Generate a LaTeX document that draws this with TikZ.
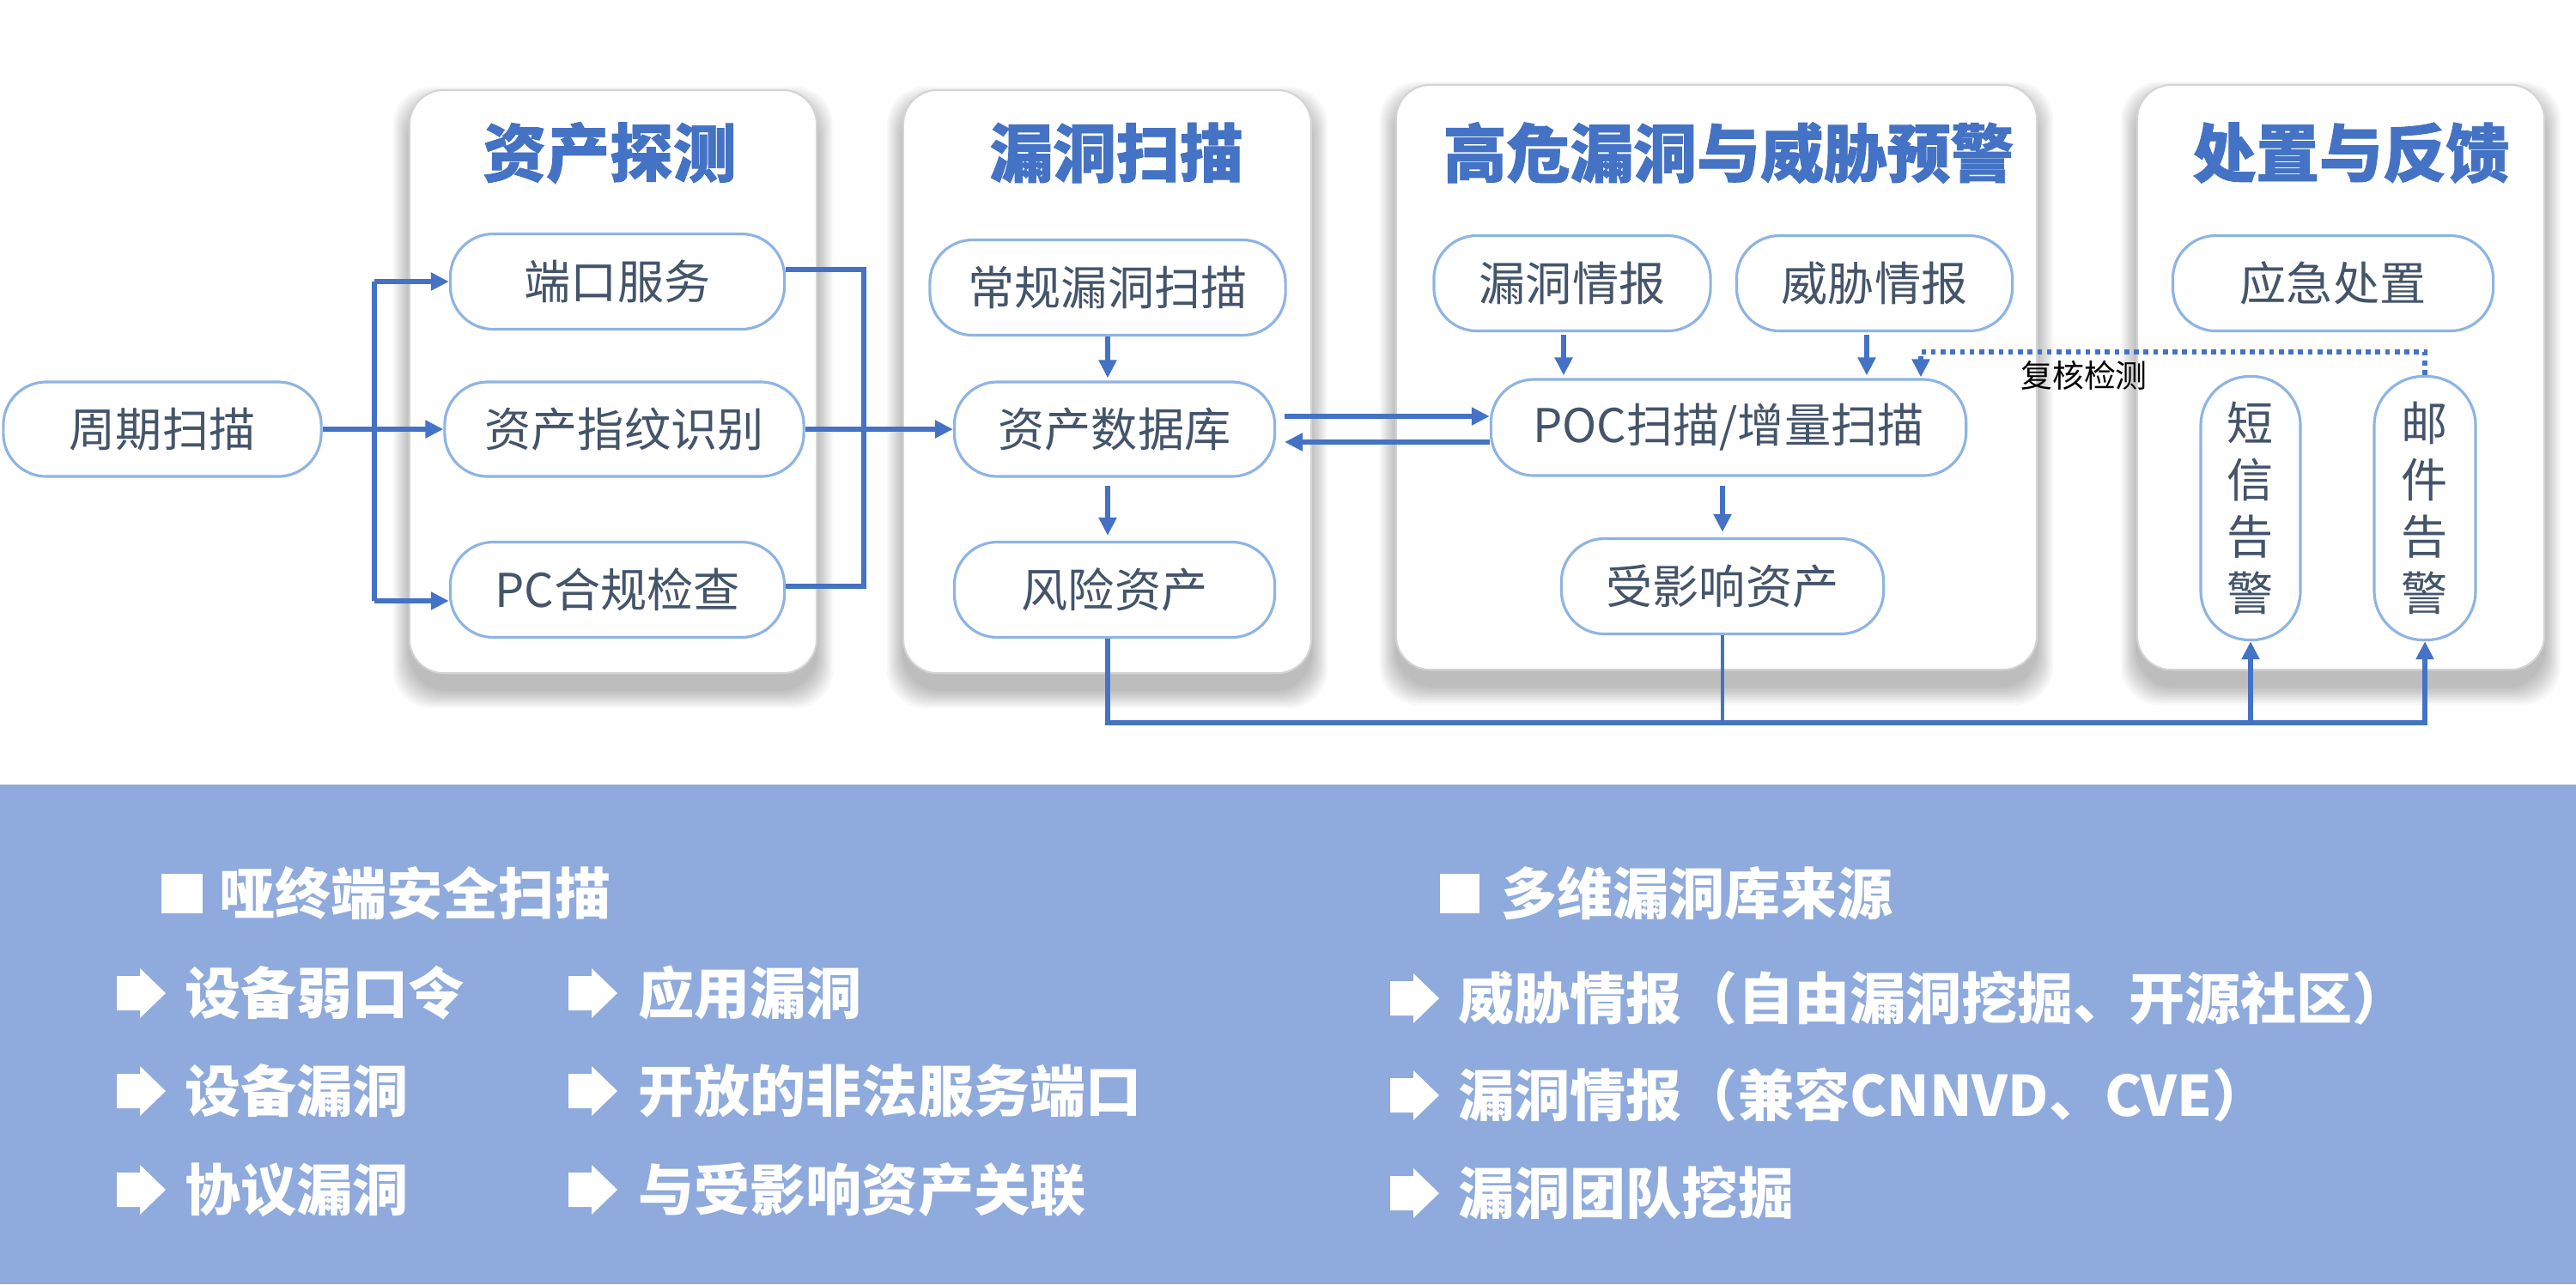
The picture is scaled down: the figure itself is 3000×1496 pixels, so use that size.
\documentclass[tikz,border=0pt]{standalone}
\usepackage{fontspec}
\setmainfont{Noto Sans CJK SC}
\newfontfamily\titlefont{Noto Sans CJK SC}[BoldFeatures={FakeBold=1.2}]
\usetikzlibrary{arrows.meta}
\definecolor{mainblue}{HTML}{4472C4}
\definecolor{nodeedge}{HTML}{8EB4E3}
\definecolor{nodetext}{HTML}{44546A}
\definecolor{bandblue}{HTML}{8FAADC}
\definecolor{paneledge}{HTML}{D4D4D4}
\pgfdeclarelayer{bgl}
\pgfdeclarelayer{shadowlayer}
\pgfsetlayers{bgl,shadowlayer,main}
\begin{document}
\begin{tikzpicture}[x=0.01cm,y=-0.01cm,
  box/.style={draw=nodeedge, line width=0.9pt, fill=white, rounded corners=0.5cm, inner sep=0pt, text=nodetext, font=\fontsize{15.4pt}{18.8pt}\selectfont},
  vbox/.style={box, rounded corners=0.57cm, align=center},
  panel/.style={draw=paneledge, line width=0.6pt, fill=white, rounded corners=0.4cm, inner sep=0pt},
  ptitle/.style={text=mainblue, font=\fontsize{21pt}{24pt}\titlefont\bfseries, inner sep=0pt},
  ln/.style={draw=mainblue, line width=1.7pt},
  arr/.style={ln, -{Triangle[length=0.21cm,width=0.2cm]}},
  dotarr/.style={draw=mainblue, line width=1.6pt, dash pattern=on 1.6pt off 1.6pt, -{Triangle[length=0.21cm,width=0.2cm]}},
  bandtxt/.style={anchor=west, inner sep=0pt, text=white, font=\fontsize{18.5pt}{22pt}\selectfont\bfseries},
  barrow/.pic={\fill[white] (0,-20) -- (27,-20) -- (27,-29) -- (57,0) -- (27,29) -- (27,20) -- (0,20) -- cycle;}
]
\useasboundingbox (0,0) rectangle (3000,1496);
\begin{pgfonlayer}{bgl}
\fill[white] (0,0) rectangle (3000,914);
\fill[bandblue] (0,914) rectangle (3000,1496);
\end{pgfonlayer}

% panels
\node[panel, minimum width=4.74cm, minimum height=6.79cm] (P1) at (714,444.5) {};
\node[panel, minimum width=4.75cm, minimum height=6.79cm] (P2) at (1289.5,444.5) {};
\node[panel, minimum width=7.46cm, minimum height=6.81cm] (P3) at (1999,439.5) {};
\node[panel, minimum width=4.74cm, minimum height=6.81cm] (P4) at (2726,439.5) {};

\begin{pgfonlayer}{shadowlayer}
\foreach \p in {P1,P2,P3,P4}{
  \foreach \k in {0,...,9}{
    \fill[black, opacity=0.027, rounded corners=0.45cm]
      ([xshift=-\k*0.02cm, yshift=-0.2cm-\k*0.022cm]\p.south west) rectangle
      ([xshift=\k*0.02cm, yshift=-0.15cm+\k*0.02cm]\p.north east);
  }
}
\end{pgfonlayer}

% titles
\node[ptitle] (T1) at (710,178) {资产探测};
\node[ptitle] (T2) at (1300,178) {漏洞扫描};
\node[ptitle] (T3) at (2013,178) {高危漏洞与威胁预警};
\node[ptitle] (T4) at (2738,178) {处置与反馈};

% nodes
\node[box, minimum width=3.70cm, minimum height=1.10cm] (zq) at (189,500) {周期扫描};
\node[box, minimum width=3.89cm, minimum height=1.11cm] (dk) at (719,328) {端口服务};
\node[box, minimum width=4.18cm, minimum height=1.10cm] (zc) at (727,500) {资产指纹识别};
\node[box, minimum width=3.89cm, minimum height=1.11cm] (pc) at (719,687) {PC合规检查};
\node[box, minimum width=4.14cm, minimum height=1.11cm] (cg) at (1290,335) {常规漏洞扫描};
\node[box, minimum width=3.73cm, minimum height=1.10cm] (db) at (1298,500) {资产数据库};
\node[box, minimum width=3.73cm, minimum height=1.11cm] (fx) at (1298,687) {风险资产};
\node[box, minimum width=3.22cm, minimum height=1.11cm] (ld) at (1831,330) {漏洞情报};
\node[box, minimum width=3.21cm, minimum height=1.11cm] (wx) at (2183,330) {威胁情报};
\node[box, minimum width=5.53cm, minimum height=1.12cm] (poc) at (2013,498) {POC扫描/增量扫描};
\node[box, minimum width=3.75cm, minimum height=1.11cm] (sy) at (2006,683) {受影响资产};
\node[box, minimum width=3.73cm, minimum height=1.11cm] (yj) at (2717,330) {应急处置};
\node[vbox, minimum width=1.16cm, minimum height=3.07cm] (dx) at (2621,592) {短\\信\\告\\警};
\node[vbox, minimum width=1.18cm, minimum height=3.07cm] (yt) at (2824,592) {邮\\件\\告\\警};

% connectors: asset discovery
\coordinate (s1) at (436,328);
\coordinate (s2) at (436,500);
\coordinate (s3) at (436,700);
\draw[ln] (zq.east) -- (s2);
\draw[ln] (s1) -- (s3);
\draw[arr] (s1) -- (s1 -| dk.west);
\draw[arr] (s2) -- (zc.west);
\draw[arr] (s3) -- (s3 -| pc.west);

\coordinate (r1) at (1006,314);
\coordinate (r2) at (1006,683);
\draw[ln] (dk.east |- r1) -- (r1) -- (r2) -- (pc.east |- r2);
\draw[arr] (zc.east) -- (db.west);

% vulnerability scan
\draw[arr, shorten >=0.03cm] (cg.south) -- (cg.south |- db.north);
\draw[arr, shorten <=0.09cm, shorten >=0.06cm] (db.south -| cg.south) -- (fx.north -| cg.south);

\coordinate (u1) at (1496,485);
\coordinate (l1) at (1496,515);
\draw[arr] (u1) -- (u1 -| poc.west);
\draw[arr] (l1 -| poc.west) -- (l1);

% warning
\coordinate (a1) at ([xshift=-0.1cm]ld.south);
\coordinate (a2) at ([xshift=-0.09cm]wx.south);
\draw[arr, shorten <=0.03cm, shorten >=0.03cm] (a1) -- (a1 |- poc.north);
\draw[arr, shorten <=0.03cm, shorten >=0.03cm] (a2) -- (a2 |- poc.north);
\draw[arr, shorten <=0.1cm, shorten >=0.06cm] (poc.south -| sy.north) -- (sy.north);

% feedback dotted
\coordinate (d1) at (2237,410);
\draw[dotarr, shorten >=0.01cm] (yt.north) -- (yt.north |- d1) -- (d1) -- (d1 |- poc.north);
\node[inner sep=0pt, text=black, font=\fontsize{10.5pt}{12pt}\selectfont] (lbl) at (2427,437) {复核检测};

% bottom feed line
\coordinate (b0) at (1290,842);
\draw[ln, line width=1.2pt] (sy.south) -- (sy.south |- b0);
\draw[arr] (fx.south -| b0) -- (b0) -- (b0 -| yt.south) -- (yt.south);
\draw[arr] (b0 -| dx.south) -- (dx.south);

% bottom band
\fill[white] (188,1018) rectangle (236,1064);
\fill[white] (1677,1018) rectangle (1723,1064);
\node[bandtxt] (h1) at (255,1041) {哑终端安全扫描};
\node[bandtxt] (h2) at (1748,1041) {多维漏洞库来源};

\pic at (136,1157) {barrow};
\pic at (136,1271) {barrow};
\pic at (136,1386) {barrow};
\pic at (662,1157) {barrow};
\pic at (662,1271) {barrow};
\pic at (662,1386) {barrow};
\pic at (1619,1163) {barrow};
\pic at (1619,1276) {barrow};
\pic at (1619,1390) {barrow};

\node[bandtxt] (i1) at (215,1157) {设备弱口令};
\node[bandtxt] (i2) at (215,1271) {设备漏洞};
\node[bandtxt] (i3) at (215,1386) {协议漏洞};
\node[bandtxt] (j1) at (743,1157) {应用漏洞};
\node[bandtxt] (j2) at (743,1271) {开放的非法服务端口};
\node[bandtxt] (j3) at (743,1386) {与受影响资产关联};
\node[bandtxt] (k1) at (1698,1163) {威胁情报（自由漏洞挖掘、开源社区）};
\node[bandtxt] (k2) at (1698,1276) {漏洞情报（兼容CNNVD、CVE）};
\node[bandtxt] (k3) at (1698,1390) {漏洞团队挖掘};
\end{tikzpicture}
\end{document}
